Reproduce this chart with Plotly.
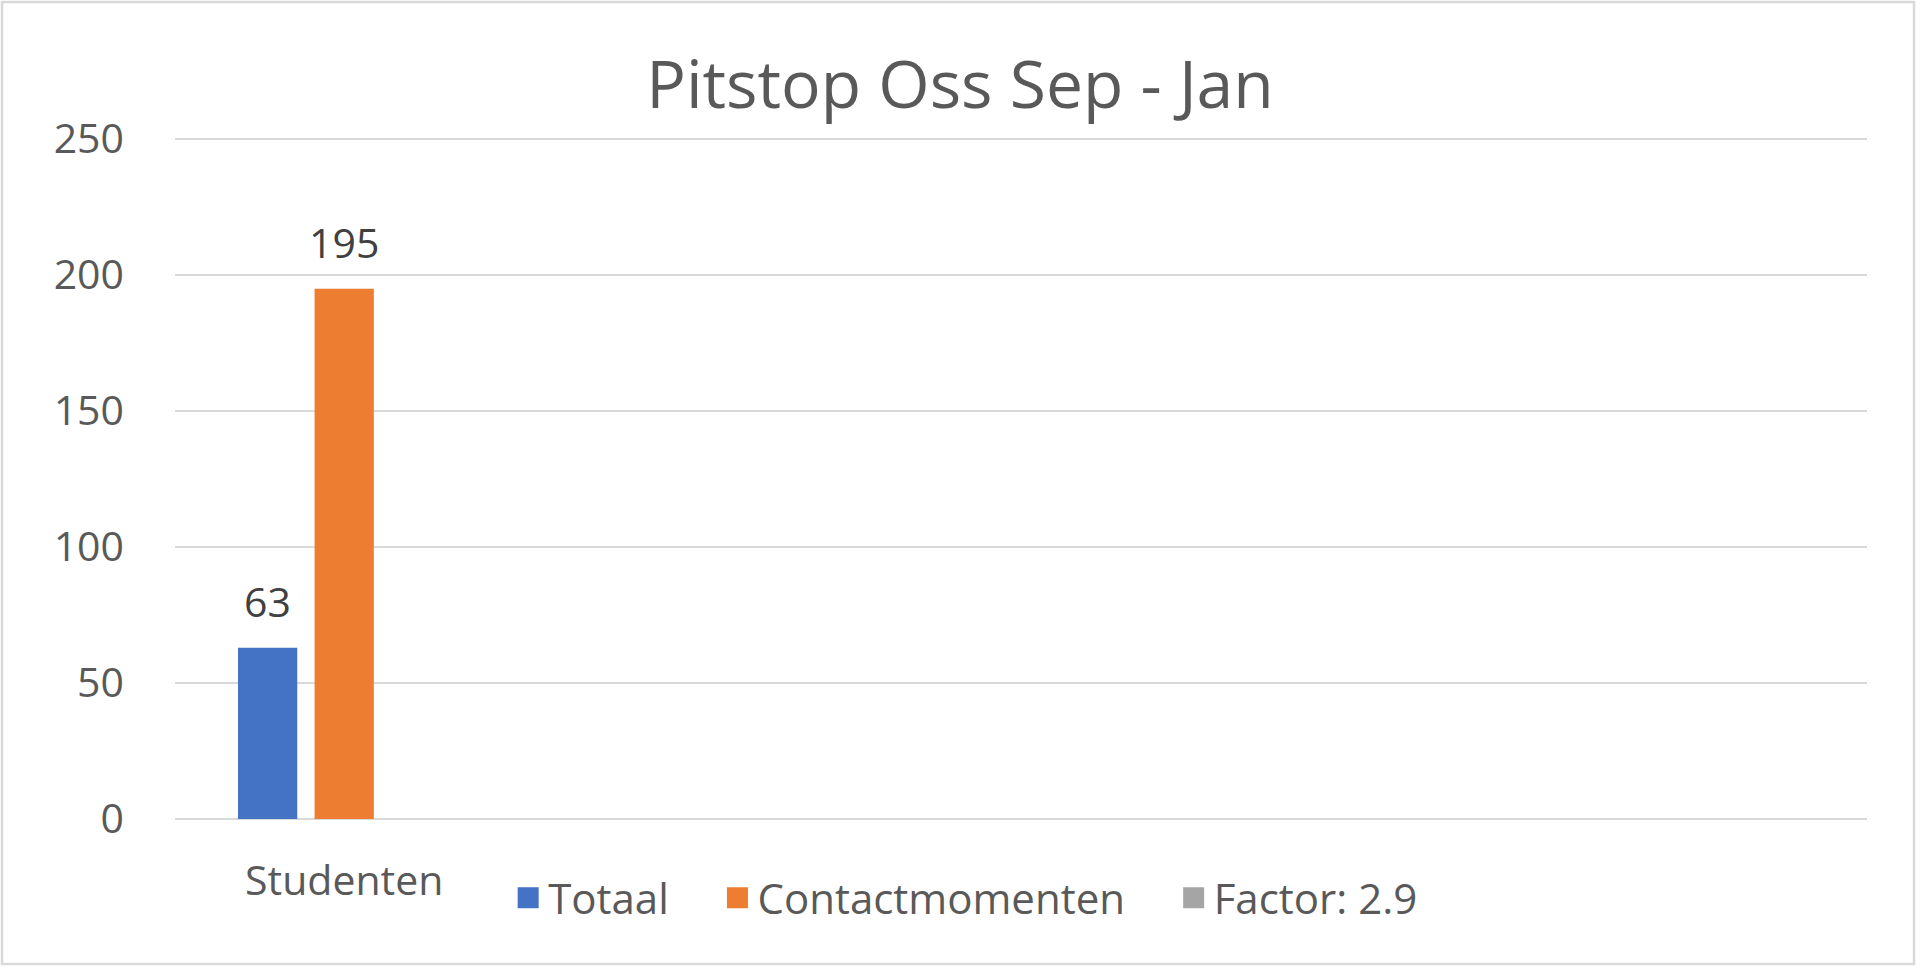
import plotly.graph_objects as go

# chart data
categories = ["Studenten"]
series_names = ["Totaal", "Contactmomenten", "Factor: 2.9"]
series_values = [[63], [195], [None]]
series_colors = ["#4472C4", "#ED7D31", "#A5A5A5"]
n_slots = 5  # excel leaves room for 5 categories, only the first is filled

W, H = 1920, 969
ml, mr, mt, mb = 175, 53, 138, 150
bargap, groupgap = 0.321, 0.226
txt = "#595959"
grid = "#D9D9D9"
font = "Open Sans"
pad = "\u00a0" * 4  # extra room between legend entries

fig = go.Figure()

for name, vals, col in zip(series_names, series_values, series_colors):
    fig.add_trace(go.Bar(name=name, x=categories, y=vals, marker_color=col,
                         marker_line_width=0, showlegend=False, hoverinfo="skip"))
    # bigger legend squares than the default bar symbol
    fig.add_trace(go.Scatter(name=name + pad, x=[None], y=[None], mode="markers",
                             marker=dict(symbol="square", size=27, color=col,
                                         line=dict(width=5, color=col))))

# data labels above the bars, placed on the group offsets
slot = (1 - bargap) / len(series_names)
for i, vals in enumerate(series_values):
    off = -(1 - bargap) / 2 + (i + 0.5) * slot
    for ci, v in enumerate(vals):
        if v is None:
            continue
        fig.add_annotation(x=ci + off, y=v, xref="x", yref="y", text=str(v),
                           showarrow=False, yanchor="bottom", yshift=17,
                           font=dict(family=font, size=41, color="#404040"))

pw = W - ml - mr
ph = H - mt - mb
# thin frame round the whole chart
fig.add_shape(type="rect", xref="paper", yref="paper",
              x0=(2 - ml) / pw, x1=(W - 6 - ml) / pw,
              y0=-(mb - 5) / ph, y1=1 + (mt - 2) / ph,
              line=dict(color=grid, width=2.5), fillcolor="rgba(0,0,0,0)", layer="below")

fig.update_layout(
    width=W, height=H,
    margin=dict(l=ml, r=mr, t=mt, b=mb),
    paper_bgcolor="white", plot_bgcolor="white",
    barmode="group", bargap=bargap, bargroupgap=groupgap,
    font=dict(family=font, color=txt),
    title=dict(text="Pitstop Oss Sep - Jan", x=0.5, xref="container", xanchor="center",
               y=0.912, yref="container", yanchor="middle",
               font=dict(family=font, size=66, color=txt)),
    legend=dict(orientation="h", x=0.48, xanchor="center", y=-0.066, yanchor="top",
                font=dict(family=font, size=42, color=txt), bgcolor="rgba(0,0,0,0)"),
    xaxis=dict(type="category", range=[-0.5, n_slots - 0.5], showgrid=False,
               showline=False, ticks="", ticklabelstandoff=34,
               tickfont=dict(family=font, size=41, color=txt)),
    yaxis=dict(range=[0, 250.4], tickvals=[0, 50, 100, 150, 200, 250], showgrid=True,
               gridcolor=grid, gridwidth=2,
               zeroline=True, zerolinecolor=grid, zerolinewidth=2, showline=False,
               ticks="", ticklabelstandoff=50,
               tickfont=dict(family=font, size=41, color=txt)),
)

fig.write_html("out.html", config={"displayModeBar": False},
               post_script="document.body.style.margin='0';")
